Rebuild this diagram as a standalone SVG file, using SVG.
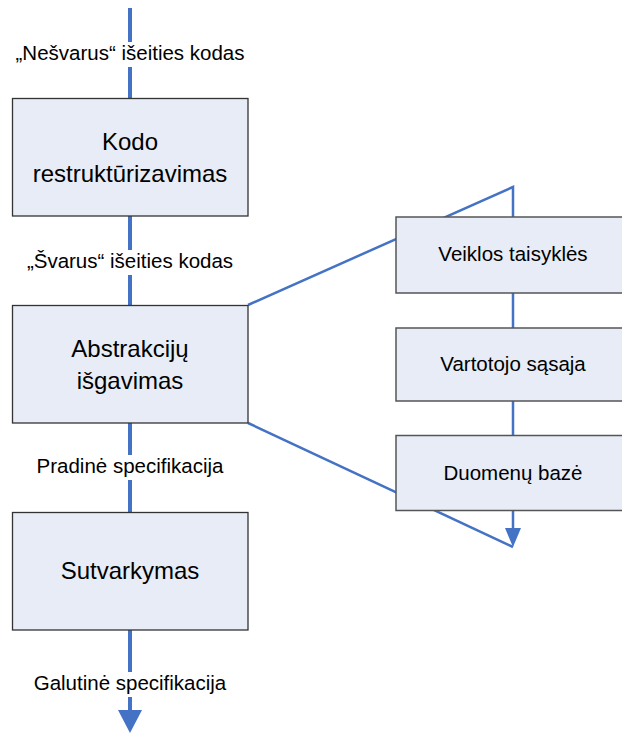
<svg xmlns="http://www.w3.org/2000/svg" width="622" height="733" viewBox="0 0 622 733">
<style>
.box{fill:#E7ECF6;stroke:#333;stroke-width:1.3}
.rbox{fill:#E7ECF6;stroke:#555;stroke-width:1.5}
.flow{stroke:#4472C4;stroke-width:4;fill:none}
.thin{stroke:#4472C4;stroke-width:2.5;fill:none}
.bt{font-family:"Liberation Sans",Arial,sans-serif;font-size:24px;fill:#000;text-anchor:middle}
.lt{font-family:"Liberation Sans",Arial,sans-serif;font-size:20.5px;fill:#000;text-anchor:middle}
.rt{font-family:"Liberation Sans",Arial,sans-serif;font-size:20.5px;fill:#000;text-anchor:middle}
.bg{fill:#fff}
</style>
<g id="connectors">
<line class="flow" x1="130" y1="8" x2="130" y2="98"/>
<line class="flow" x1="130" y1="216" x2="130" y2="305"/>
<line class="flow" x1="130" y1="423" x2="130" y2="512"/>
<line class="flow" x1="130" y1="630" x2="130" y2="712"/>
<path d="M118,710 L142,710 L130,733 z" fill="#4472C4"/>
<polyline class="thin" points="248,305 513,187 513,530"/>
<line class="thin" x1="248" y1="423" x2="513" y2="547"/>
<path d="M505,528 L521,528 L513,547 z" fill="#4472C4"/>
</g>
<g id="label-nesvarus">
<rect class="bg" x="10" y="42" width="240" height="25"/>
<text class="lt" x="130" y="60">„Nešvarus“ išeities kodas</text>
</g>
<g id="label-svarus">
<rect class="bg" x="16" y="250" width="228" height="25"/>
<text class="lt" x="130" y="268">„Švarus“ išeities kodas</text>
</g>
<g id="label-pradine">
<rect class="bg" x="26" y="455" width="208" height="25"/>
<text class="lt" x="130" y="473">Pradinė specifikacija</text>
</g>
<g id="label-galutine">
<rect class="bg" x="22" y="672" width="216" height="25"/>
<text class="lt" x="130" y="690">Galutinė specifikacija</text>
</g>
<g id="kodo">
<rect class="box" x="12.5" y="98.5" width="235.5" height="117.5"/>
<text class="bt" x="130" y="150">Kodo</text>
<text class="bt" x="130" y="182">restruktūrizavimas</text>
</g>
<g id="abstrakciju">
<rect class="box" x="12.5" y="305.5" width="235.5" height="117.5"/>
<text class="bt" x="130" y="357">Abstrakcijų</text>
<text class="bt" x="130" y="389">išgavimas</text>
</g>
<g id="sutvarkymas">
<rect class="box" x="12.5" y="512.5" width="235.5" height="117.5"/>
<text class="bt" x="130" y="579">Sutvarkymas</text>
</g>
<g id="veiklos">
<rect class="rbox" x="396" y="217" width="230" height="76"/>
<text class="rt" x="513" y="261">Veiklos taisyklės</text>
</g>
<g id="vartotojo">
<rect class="rbox" x="396" y="328" width="230" height="73"/>
<text class="rt" x="513" y="371">Vartotojo sąsaja</text>
</g>
<g id="duomenu">
<rect class="rbox" x="396" y="435.5" width="230" height="75"/>
<text class="rt" x="513" y="480">Duomenų bazė</text>
</g>
</svg>
